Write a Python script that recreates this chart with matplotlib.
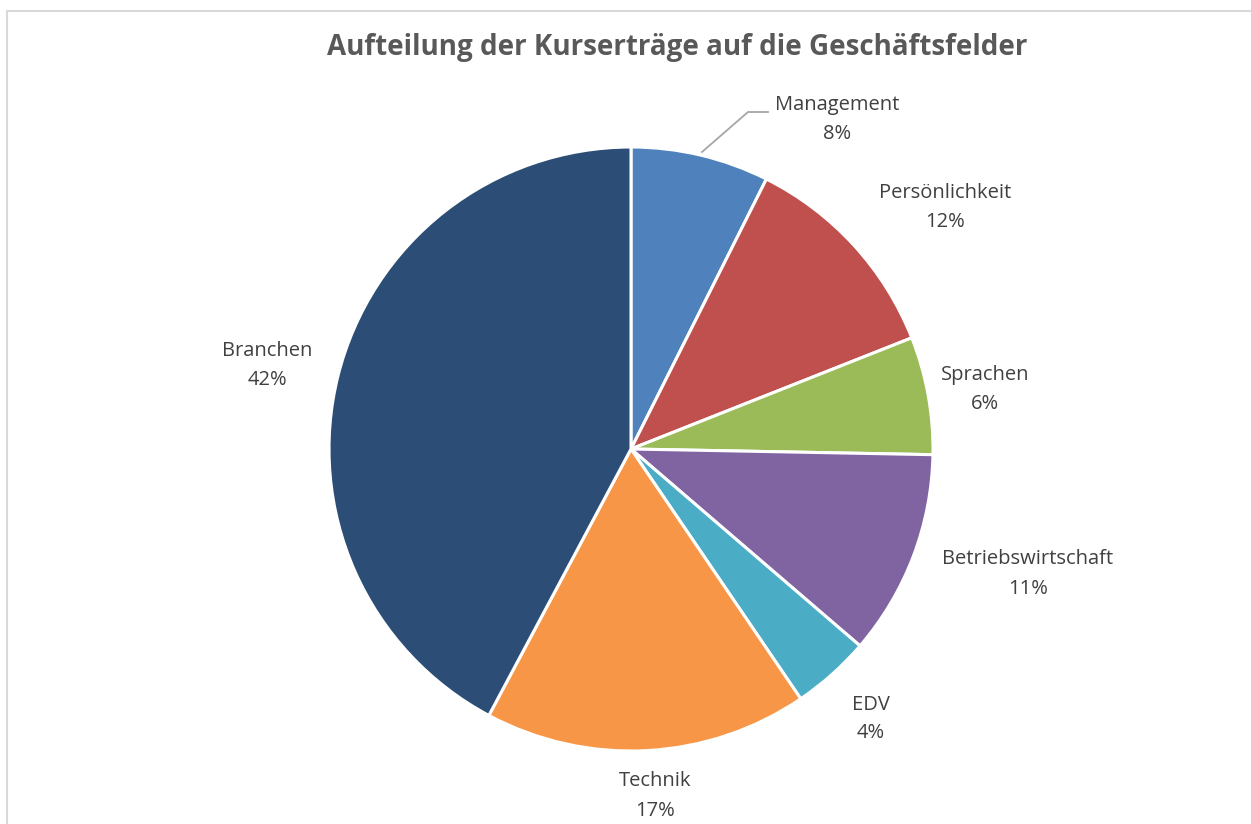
import matplotlib
matplotlib.use("Agg")
import matplotlib.pyplot as plt
from matplotlib.lines import Line2D

categories = ["Management", "Persönlichkeit", "Sprachen", "Betriebswirtschaft", "EDV", "Technik", "Branchen"]
values = [7.4, 11.6, 6.3, 11.0, 4.2, 17.3, 42.2]
pct_labels = ["8%", "12%", "6%", "11%", "4%", "17%", "42%"]
colors = ["#4F81BD", "#C0504D", "#9BBB59", "#8064A2", "#4BACC6", "#F79646", "#2C4D75"]

W, H = 1251, 824
plt.rcParams['font.family'] = ['Open Sans', 'DejaVu Sans']
fig = plt.figure(figsize=(W / 100, H / 100), dpi=100)
ax = fig.add_axes([0, 0, 1, 1])

cx, cy, r = 631, H - 449, 302
ax.pie(values, colors=colors, startangle=90, counterclock=False,
       center=(cx, cy), radius=r, frame=True,
       wedgeprops=dict(edgecolor='white', linewidth=2.2))
ax.set_xlim(0, W)
ax.set_ylim(0, H)
ax.set_aspect('equal')
ax.axis('off')

label_pos = [(837, 119), (945, 207), (985, 389), (1028, 574), (871, 719), (655, 796), (267, 365)]
for name, pct, (lx, ly) in zip(categories, pct_labels, label_pos):
    ax.text(lx, H - ly, name + "\n" + pct, ha='center', va='center',
            fontsize=14.5, color='#404040', linespacing=1.6)

# leader line for Management
ax.plot([702, 748, 768], [H - 152, H - 112, H - 112], color='#A6A6A6', lw=1.3)

fig.text(677 / W, 1 - 48 / H, "Aufteilung der Kurserträge auf die Geschäftsfelder",
         ha='center', va='center', fontsize=20, fontweight='bold', color='#595959')

# chart border (top and left visible)
fig.add_artist(Line2D([7 / W, 7 / W], [0, 1 - 11 / H], color='#D9D9D9', lw=1.5, transform=fig.transFigure))
fig.add_artist(Line2D([7 / W, 1], [1 - 11 / H, 1 - 11 / H], color='#D9D9D9', lw=1.5, transform=fig.transFigure))

fig.savefig("out.png", dpi=100, facecolor='white')
